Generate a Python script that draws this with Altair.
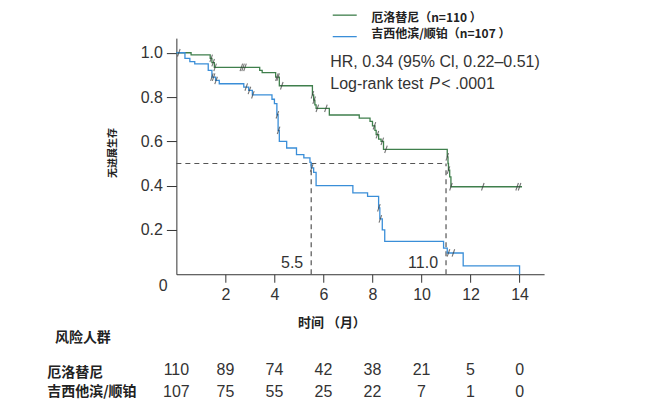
import altair as alt
import pandas as pd

# ---------------- data ----------------
# Erlotinib (green) Kaplan-Meier step breakpoints
erl_t = [0, 0.6, 1.38, 1.45, 1.55, 3.4, 3.5, 4.05, 4.2, 5.55, 5.6, 5.65, 5.7, 6.24, 7.46,
         7.9, 8.0, 8.1, 8.15, 8.25, 8.35, 8.45, 11.05, 11.08, 11.1, 11.15, 11.2, 14.1]
erl_s = [1.0, 0.99, 0.975, 0.955, 0.934, 0.92, 0.91, 0.89, 0.851, 0.81, 0.786, 0.765, 0.749, 0.719, 0.705,
         0.69, 0.67, 0.65, 0.63, 0.61, 0.60, 0.564, 0.53, 0.5, 0.47, 0.44, 0.395, 0.395]
# Gemcitabine/cisplatin (blue)
gem_t = [0, 0.35, 0.55, 0.75, 1.3, 1.45, 1.6, 1.75, 2.75, 2.95, 3.1, 3.9, 4.0, 4.1, 4.15, 4.2,
         4.5, 4.9, 5.2, 5.45, 5.5, 5.6, 5.7, 7.2, 7.8, 8.25, 8.3, 8.4, 8.5, 10.9, 11.05, 11.7, 14.0]
gem_s = [1.0, 0.975, 0.96, 0.95, 0.92, 0.89, 0.875, 0.86, 0.845, 0.83, 0.81, 0.79, 0.77, 0.72, 0.65, 0.60,
         0.57, 0.54, 0.525, 0.505, 0.48, 0.46, 0.40, 0.367, 0.352, 0.30, 0.25, 0.20, 0.148, 0.118, 0.096, 0.038, 0.0]
# censor marks (times)
erl_cens = [0.1, 1.42, 1.5, 1.58, 2.65, 2.72, 2.8, 4.1, 4.15, 4.3, 5.55, 5.62, 5.75, 6.1,
            8.08, 8.2, 8.4, 8.55, 11.05, 11.1, 11.2, 12.5, 13.9, 14.0]
gem_cens = [1.45, 1.52, 1.62, 2.85, 2.98, 3.12, 4.12, 4.17, 5.52, 8.26, 8.32, 11.1, 11.3]

# risk table
risk_times = [0, 2, 4, 6, 8, 10, 12, 14]
risk_erl = [110, 89, 74, 42, 38, 21, 5, 0]
risk_gem = [107, 75, 55, 25, 22, 7, 1, 0]
x_ticks = [2, 4, 6, 8, 10, 12, 14]
y_ticks = [0.2, 0.4, 0.6, 0.8, 1.0]
medians = [5.5, 11.0]

GREEN = "#3f7f4c"
BLUE = "#3a8ed8"
TXT = "#333333"
LAT = "Liberation Sans, Noto Sans CJK SC"
CJK = "Noto Sans CJK SC, Liberation Sans"


def step_value(ts, ss, t):
    v = ss[0]
    for a, b in zip(ts, ss):
        if a <= t:
            v = b
    return v


curves = pd.concat([
    pd.DataFrame({"t": erl_t, "s": erl_s, "g": "erl"}),
    pd.DataFrame({"t": gem_t, "s": gem_s, "g": "gem"}),
])
cens = pd.DataFrame({
    "t": erl_cens + gem_cens,
    "s": [step_value(erl_t, erl_s, t) for t in erl_cens] + [step_value(gem_t, gem_s, t) for t in gem_cens],
})

W, H = 368, 236.3
xs = alt.Scale(domain=[0, 15], nice=False, zero=False)
ys = alt.Scale(domain=[0, 1.066], nice=False, zero=False)

x_axis = alt.Axis(values=x_ticks, format="d", title=None, grid=False, tickSize=8, labelPadding=4,
                  labelFont=LAT, labelFontSize=16, labelColor=TXT, domainColor=TXT, tickColor=TXT)
y_axis = alt.Axis(values=y_ticks, format=".1f", title=None, grid=False, tickSize=10, labelPadding=4,
                  labelFont=LAT, labelFontSize=16, labelColor=TXT, domainColor=TXT, tickColor=TXT)

lines = alt.Chart(curves).mark_line(interpolate="step-after", strokeWidth=1.3).encode(
    x=alt.X("t:Q", scale=xs, axis=x_axis),
    y=alt.Y("s:Q", scale=ys, axis=y_axis),
    color=alt.Color("g:N", scale=alt.Scale(domain=["erl", "gem"], range=[GREEN, BLUE]), legend=None),
    detail="g:N",
)

ticks = alt.Chart(cens).mark_point(shape="M-0.35,1L0.35,-1", size=55, filled=False,
                                   stroke="#3a3a3a", strokeWidth=1.1).encode(
    x=alt.X("t:Q", scale=xs), y=alt.Y("s:Q", scale=ys))

one = pd.DataFrame({"a": [0]})

hdash = alt.Chart(pd.DataFrame({"x1": [0], "x2": [medians[1]], "y": [0.5]})).mark_rule(
    strokeDash=[5, 4], color="#555555", strokeWidth=1.2).encode(
    x=alt.X("x1:Q", scale=xs), x2="x2:Q", y=alt.Y("y:Q", scale=ys))
vdash = alt.Chart(pd.DataFrame({"x": medians, "y1": [0, 0], "y2": [0.5, 0.5]})).mark_rule(
    strokeDash=[5, 4], color="#555555", strokeWidth=1.2).encode(
    x=alt.X("x:Q", scale=xs), y=alt.Y("y1:Q", scale=ys), y2="y2:Q")
med_lbl = alt.Chart(pd.DataFrame({"x": medians, "y": [0.05, 0.05],
                                  "lab": ["5.5", "11.0"]})).mark_text(
    align="right", baseline="middle", dx=-8, font=LAT, fontSize=16, color=TXT).encode(
    x=alt.X("x:Q", scale=xs), y=alt.Y("y:Q", scale=ys), text="lab:N")


def txt(s, x, y, **kw):
    base = dict(align="left", baseline="middle", font=LAT, fontSize=16, color=TXT)
    base.update(kw)
    return alt.Chart(one).mark_text(**base).encode(x=alt.value(x), y=alt.value(y), text=alt.value(s))


def rule(x1, x2, y, color):
    return alt.Chart(one).mark_rule(color=color, strokeWidth=1.3).encode(
        x=alt.value(x1), x2=alt.value(x2), y=alt.value(y))


legend = [
    rule(156.5, 180.5, -23, GREEN),
    rule(156.5, 180.5, -1.5, BLUE),
    txt("厄洛替尼（n=110 ）", 195, -20.5, font=CJK, fontSize=12, fontWeight="bold", color="#222"),
    txt("吉西他滨/顺铂（n=107 ）", 195, -4.5, font=CJK, fontSize=12, fontWeight="bold", color="#222"),
]

annot = [
    txt("HR, 0.34 (95% Cl, 0.22–0.51)", 154, 24),
    txt("Log-rank test", 154, 45.5),
    txt("P", 253, 45.5, fontStyle="italic"),
    txt("< .0001", 265, 45.5),
]

titles = [
    txt("0", -13.2, 248, align="center"),
    txt("无进展生存", -63.2, 115, align="center", angle=270, font=CJK, fontSize=10,
        fontWeight="bold", color="#222"),
    txt("时间  （月）", 155.7, 285.5, align="center", font=CJK, fontSize=13,
        fontWeight="bold", color="#222"),
    txt("风险人群", -121.5, 300.5, font=CJK, fontSize=14, fontWeight="bold", color="#222"),
    txt("厄洛替尼", -129.2, 335, font=CJK, fontSize=14, fontWeight="bold", color="#222"),
    txt("吉西他滨/顺铂", -129.2, 354.5, font=CJK, fontSize=14, fontWeight="bold", color="#222"),
]

risk_df = pd.DataFrame({"t": risk_times, "e": risk_erl, "g": risk_gem})
risk1 = alt.Chart(risk_df).mark_text(align="center", baseline="middle", font=LAT, fontSize=16,
                                     color=TXT).encode(
    x=alt.X("t:Q", scale=xs), y=alt.value(332), text="e:Q")
risk2 = alt.Chart(risk_df).mark_text(align="center", baseline="middle", font=LAT, fontSize=16,
                                     color=TXT).encode(
    x=alt.X("t:Q", scale=xs), y=alt.value(354.5), text="g:Q")

chart = alt.layer(
    hdash, vdash, lines, ticks, med_lbl, risk1, risk2, *legend, *annot, *titles
).properties(
    width=W, height=H,
    padding={"left": 168.5, "top": 30, "right": 100, "bottom": 135},
    autosize=alt.AutoSizeParams(type="none"),
).configure_view(stroke=None)

chart.save("out.html", embed_options={"renderer": "svg", "actions": False})
